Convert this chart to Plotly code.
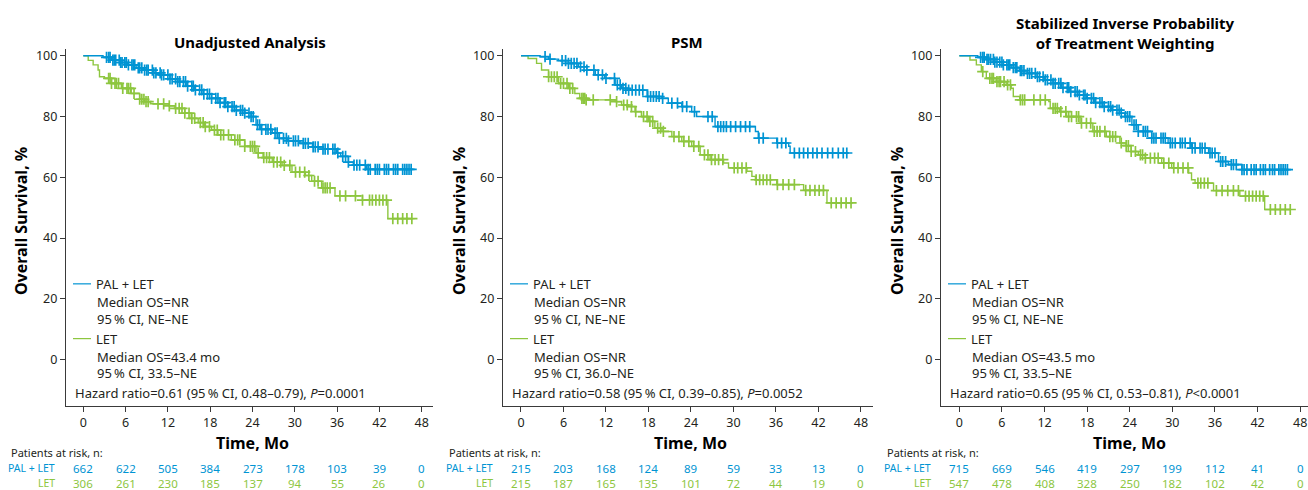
import numpy as np
import plotly.graph_objects as go

# ---------------- data ----------------
months = [0, 6, 12, 18, 24, 30, 36, 42, 48]
y_ticks = [0, 20, 40, 60, 80, 100]

panel_titles = ["Unadjusted Analysis", "PSM", "Stabilized Inverse Probability<br>of Treatment Weighting"]
arm_names = ["PAL + LET", "LET"]

# Panel 1: Unadjusted
u_pal_t = [0, 2.8, 4.0, 5.2, 6.3, 7.5, 8.7, 10.0, 11.1, 12.3, 13.4, 14.6, 15.8, 17.0, 18.2, 19.4, 20.5, 21.7, 22.9, 23.8, 24.5, 25.1, 26.8, 27.6, 29.0, 30.7, 32.5, 34.0, 35.9, 36.5, 37.6, 38.3, 40.2, 46.8]
u_pal_s = [100, 99.5, 98.6, 97.8, 97.0, 96.0, 95.3, 94.4, 93.7, 92.4, 91.5, 90.0, 88.8, 87.4, 86.0, 84.6, 83.3, 82.0, 81.1, 80.0, 77.3, 75.8, 74.6, 72.8, 72.0, 71.2, 70.0, 69.3, 68.0, 66.9, 65.0, 64.0, 62.6, 62.6]
u_pal_c = [3.3, 3.6, 3.8, 4.2, 4.4, 4.6, 5.1, 5.3, 5.5, 5.9, 6.1, 6.4, 6.9, 7.1, 7.3, 7.8, 8.0, 8.3, 8.7, 9.0, 9.2, 9.8, 10.0, 10.3, 10.9, 11.1, 11.4, 12.0, 12.3, 12.6, 13.1, 13.4, 13.7, 14.2, 14.5, 14.8, 15.4, 15.6, 15.9, 16.5, 16.8, 17.1, 17.6, 17.9, 18.2, 18.8, 19.1, 19.4, 20.0, 20.2, 20.5, 21.1, 21.4, 21.7, 22.3, 22.6, 22.9, 23.5, 23.8, 24.1, 24.7, 25.0, 25.3, 25.9, 26.2, 26.6, 27.2, 27.5, 27.8, 28.4, 28.8, 29.1, 29.8, 30.1, 30.5, 31.2, 31.5, 31.9, 32.6, 32.9, 33.3, 34.0, 34.3, 34.7, 35.4, 35.7, 36.1, 36.8, 37.2, 37.6, 38.4, 38.8, 39.2, 40.0, 40.4, 40.7, 41.4, 41.7, 42.0, 42.7, 43.0, 43.3, 44.0, 44.3, 44.6, 45.3, 45.6, 45.9, 46.2, 46.5]
u_let_t = [0, 0.7, 1.4, 2.1, 2.3, 3.0, 4.0, 5.4, 6.8, 8.0, 8.7, 9.5, 12.2, 13.0, 14.4, 15.3, 16.3, 17.2, 18.2, 19.1, 21.0, 22.9, 24.5, 25.5, 26.8, 28.2, 29.6, 31.5, 32.4, 33.8, 35.7, 39.6, 43.2, 47.0]
u_let_s = [100, 98.5, 97.0, 95.3, 93.1, 92.6, 90.9, 89.3, 87.6, 85.7, 84.9, 84.2, 83.5, 82.7, 81.1, 79.4, 78.0, 76.7, 75.5, 74.0, 72.3, 70.2, 68.0, 66.5, 65.0, 63.9, 61.7, 60.6, 58.7, 56.5, 53.9, 52.5, 46.4, 46.4]
u_let_c = [3.6, 3.8, 4.0, 4.5, 4.7, 5.0, 5.6, 6.2, 6.4, 6.7, 7.2, 8.0, 8.3, 8.6, 8.9, 9.2, 10.6, 11.4, 12.2, 13.1, 13.6, 14.0, 14.4, 15.0, 15.4, 15.8, 16.6, 17.0, 17.3, 17.9, 18.6, 19.0, 19.5, 19.9, 20.6, 21.5, 21.9, 22.2, 22.9, 23.7, 24.0, 24.3, 24.8, 25.6, 26.0, 26.4, 27.0, 27.5, 28.0, 28.5, 29.3, 30.1, 30.7, 31.4, 32.0, 32.8, 33.3, 34.0, 34.3, 34.6, 35.0, 36.4, 37.2, 38.6, 39.6, 40.6, 41.0, 41.5, 42.0, 42.5, 43.0, 43.9, 44.6, 45.3, 45.9, 46.6]

# Panel 2: PSM
p_pal_t = [0, 2.7, 3.9, 5.3, 6.7, 8.1, 9.3, 10.5, 11.8, 13.3, 14.2, 15.2, 17.8, 19.9, 20.8, 22.7, 24.1, 24.8, 27.4, 33.1, 33.5, 36.1, 37.8, 38.0, 46.2]
p_pal_s = [100, 99.7, 98.9, 98.4, 97.5, 96.4, 95.3, 93.7, 92.6, 90.4, 89.3, 88.7, 86.6, 86.0, 84.4, 83.3, 81.6, 80.0, 76.7, 75.1, 72.9, 71.3, 70.2, 68.0, 68.0]
p_pal_c = [3.4, 4.1, 5.8, 6.3, 6.7, 7.1, 7.5, 7.9, 8.4, 8.9, 9.3, 10.3, 10.9, 11.5, 12.0, 13.2, 13.6, 14.0, 14.4, 14.8, 15.2, 15.7, 16.2, 16.7, 17.2, 17.9, 18.3, 18.7, 19.1, 19.5, 20.0, 21.3, 22.1, 22.8, 23.4, 24.5, 26.4, 27.0, 27.8, 28.2, 28.6, 29.0, 29.6, 30.3, 31.0, 31.7, 32.3, 33.6, 34.2, 36.2, 36.8, 37.4, 38.6, 39.3, 39.9, 40.5, 41.2, 41.8, 42.5, 43.3, 44.0, 44.8, 45.5, 46.0]
p_let_t = [0, 1.0, 2.2, 2.9, 3.9, 5.3, 6.7, 7.6, 8.3, 9.2, 13.3, 14.2, 15.2, 16.1, 17.0, 18.0, 18.9, 19.9, 21.3, 22.7, 24.1, 25.3, 26.7, 28.6, 29.3, 31.9, 32.6, 33.1, 36.1, 39.9, 43.2, 46.9]
p_let_s = [100, 99.1, 97.5, 95.3, 93.1, 90.9, 89.3, 87.6, 86.0, 85.5, 84.9, 83.8, 83.3, 81.6, 80.0, 78.4, 76.2, 75.1, 73.4, 71.8, 70.2, 67.4, 65.8, 64.7, 63.1, 62.0, 60.3, 59.2, 57.6, 55.7, 51.6, 51.6]
p_let_c = [3.9, 4.3, 4.7, 5.1, 5.6, 6.0, 6.5, 6.9, 7.3, 8.6, 8.8, 9.0, 9.2, 10.2, 12.6, 13.5, 14.5, 15.0, 15.6, 16.2, 17.3, 17.8, 18.2, 18.6, 19.3, 19.7, 20.1, 21.6, 22.3, 23.0, 23.7, 24.4, 25.1, 25.9, 26.4, 26.9, 27.4, 27.9, 28.5, 30.1, 30.6, 31.2, 31.8, 33.2, 33.7, 34.2, 34.7, 35.2, 36.2, 37.0, 37.8, 38.6, 40.2, 40.8, 41.5, 42.1, 42.7, 43.8, 44.5, 45.2, 45.9, 46.6]

# Panel 3: Stabilized IPTW
w_pal_t = [0, 2.6, 3.8, 5.0, 6.2, 7.3, 8.5, 9.6, 10.8, 12.0, 13.2, 14.4, 15.5, 16.7, 17.9, 19.0, 20.2, 21.4, 22.6, 23.3, 24.3, 25.2, 27.1, 29.4, 32.7, 35.1, 36.5, 37.9, 39.8, 46.3]
w_pal_s = [100, 99.5, 98.8, 97.9, 97.0, 96.1, 95.1, 94.2, 93.1, 92.1, 90.9, 89.5, 88.2, 87.1, 86.0, 84.6, 83.3, 82.1, 81.1, 80.0, 77.3, 75.1, 72.9, 71.3, 69.6, 68.0, 65.2, 64.2, 62.5, 62.5]
w_pal_c = [3.0, 3.3, 3.5, 3.9, 4.1, 4.4, 4.8, 5.0, 5.3, 5.7, 6.0, 6.2, 6.7, 6.9, 7.1, 7.6, 7.9, 8.1, 8.6, 8.8, 9.1, 9.6, 9.9, 10.2, 10.7, 11.0, 11.3, 11.8, 12.1, 12.4, 12.9, 13.2, 13.5, 14.0, 14.3, 14.6, 15.2, 15.4, 15.7, 16.3, 16.6, 16.9, 17.5, 17.7, 18.0, 18.6, 18.9, 19.2, 19.8, 20.1, 20.4, 21.0, 21.3, 21.6, 22.2, 22.5, 22.8, 23.4, 23.7, 24.0, 24.6, 24.9, 25.2, 25.9, 26.2, 26.5, 27.1, 27.4, 27.7, 28.4, 28.7, 29.0, 29.7, 30.0, 30.4, 31.1, 31.4, 31.8, 32.5, 32.8, 33.2, 33.9, 34.2, 34.6, 35.3, 35.6, 36.0, 36.8, 37.1, 37.5, 38.3, 38.6, 39.0, 39.8, 40.1, 40.5, 41.1, 41.5, 41.8, 42.4, 42.8, 43.1, 43.7, 44.1, 44.4, 45.0, 45.3, 45.6, 45.9, 46.2]
w_let_t = [0, 1.5, 2.4, 3.1, 3.8, 5.2, 6.6, 7.3, 7.6, 8.5, 12.6, 12.8, 14.1, 15.1, 17.0, 18.8, 20.7, 22.6, 23.5, 24.2, 25.2, 26.2, 28.5, 29.9, 32.3, 32.7, 33.2, 35.8, 39.5, 43.0, 46.7]
w_let_s = [100, 98.6, 97.0, 94.8, 92.6, 91.5, 90.4, 89.3, 86.6, 85.5, 84.9, 82.7, 81.6, 80.0, 77.8, 75.1, 73.4, 71.3, 70.4, 68.5, 67.4, 66.3, 64.7, 63.1, 61.4, 59.2, 58.1, 55.6, 53.8, 49.4, 49.4]
w_let_c = [3.3, 4.3, 4.6, 4.8, 5.3, 5.6, 5.8, 6.3, 6.8, 7.2, 8.6, 8.9, 9.2, 10.5, 11.4, 12.1, 13.2, 13.5, 13.8, 14.3, 15.0, 15.4, 15.8, 16.5, 16.8, 17.2, 17.9, 18.5, 19.0, 19.4, 19.8, 20.5, 21.2, 21.6, 22.0, 22.8, 23.5, 23.8, 24.2, 24.8, 25.5, 25.8, 26.2, 26.9, 27.5, 28.0, 28.8, 29.5, 30.2, 30.8, 31.5, 32.2, 33.6, 34.0, 34.5, 35.0, 36.2, 37.0, 37.8, 38.6, 39.3, 40.3, 40.8, 41.3, 41.8, 42.3, 42.8, 43.8, 44.5, 45.2, 45.9, 46.6]

# at-risk tables
u_risk_pal = [662, 622, 505, 384, 273, 178, 103, 39, 0]
u_risk_let = [306, 261, 230, 185, 137, 94, 55, 26, 0]
p_risk_pal = [215, 203, 168, 124, 89, 59, 33, 13, 0]
p_risk_let = [215, 187, 165, 135, 101, 72, 44, 19, 0]
w_risk_pal = [715, 669, 546, 419, 297, 199, 112, 41, 0]
w_risk_let = [547, 478, 408, 328, 250, 182, 102, 42, 0]

pal_stats = [["Median OS=NR", "95\u2009% CI, NE\u2013NE"]] * 3
let_stats = [["Median OS=43.4 mo", "95\u2009% CI, 33.5\u2013NE"],
             ["Median OS=NR", "95\u2009% CI, 36.0\u2013NE"],
             ["Median OS=43.5 mo", "95\u2009% CI, 33.5\u2013NE"]]
hr_text = ["Hazard ratio=0.61 (95\u2009% CI, 0.48\u20130.79), <i>P</i>=0.0001",
           "Hazard ratio=0.58 (95\u2009% CI, 0.39\u20130.85), <i>P</i>=0.0052",
           "Hazard ratio=0.65 (95\u2009% CI, 0.53\u20130.81), <i>P</i>&lt;0.0001"]

# ---------------- style ----------------
W, H = 1308, 490
BLUE = "#0094D3"
GREEN = "#8DC63F"
TXT = "#231F20"
FONT = "Noto Sans"

axis_left_px = [66, 503, 941]
axis_right_px = [433, 873, 1308]
x_ranges = [[-2.45, 49.6], [-2.54, 49.7], [-2.58, 49.1]]
y_range = [-15.4, 102.3]
y_dom = [1 - 406 / H, 1 - 47 / H]


def X(px):
    return px / W


def Y(py):
    return 1 - py / H


def step_at(ts, ss, c):
    idx = np.searchsorted(np.array(ts), np.array(c), side="right") - 1
    return list(np.array(ss)[idx])


panels = [
    (u_pal_t, u_pal_s, u_pal_c, u_let_t, u_let_s, u_let_c, u_risk_pal, u_risk_let),
    (p_pal_t, p_pal_s, p_pal_c, p_let_t, p_let_s, p_let_c, p_risk_pal, p_risk_let),
    (w_pal_t, w_pal_s, w_pal_c, w_let_t, w_let_s, w_let_c, w_risk_pal, w_risk_let),
]

fig = go.Figure()
annotations = []
shapes = []

for i, (pt, ps, pc, lt, ls, lc, rp, rl) in enumerate(panels):
    xa = "x" if i == 0 else f"x{i+1}"
    ya = "y" if i == 0 else f"y{i+1}"
    for t, s, c, col in [(lt, ls, lc, GREEN), (pt, ps, pc, BLUE)]:
        fig.add_trace(go.Scatter(x=t, y=s, mode="lines", line=dict(color=col, width=1.4, shape="hv"),
                                 xaxis=xa, yaxis=ya, showlegend=False, hoverinfo="skip"))
        fig.add_trace(go.Scatter(x=c, y=step_at(t, s, c), mode="markers",
                                 marker=dict(symbol="cross-thin", size=8, line=dict(color=col, width=1.7)),
                                 xaxis=xa, yaxis=ya, showlegend=False, hoverinfo="skip"))

    dom = [X(axis_left_px[i]), X(axis_right_px[i])]
    axkw = dict(domain=dom, range=x_ranges[i], tickvals=months, ticks="outside", ticklen=5,
                tickcolor="#3a3a3a", showline=True, linecolor="#3a3a3a", linewidth=1.2,
                showgrid=False, zeroline=False, tickfont=dict(family=FONT, size=12.5, color=TXT),
                anchor=ya)
    aykw = dict(domain=y_dom, range=y_range, tickvals=y_ticks, ticks="outside", ticklen=5,
                tickcolor="#3a3a3a", showline=True, linecolor="#3a3a3a", linewidth=1.2,
                showgrid=False, zeroline=False, tickfont=dict(family=FONT, size=12.5, color=TXT),
                anchor=xa)
    fig.update_layout(**{("xaxis" if i == 0 else f"xaxis{i+1}"): axkw,
                         ("yaxis" if i == 0 else f"yaxis{i+1}"): aykw})

    L = axis_left_px[i]
    # legend inside
    for (ly, col, name, stats) in [(283, BLUE, arm_names[0], pal_stats[i]), (338, GREEN, arm_names[1], let_stats[i])]:
        shapes.append(dict(type="line", xref="paper", yref="paper", x0=X(L + 7), x1=X(L + 25),
                           y0=Y(ly), y1=Y(ly), line=dict(color=col, width=1.2)))
        annotations.append(dict(text=name, x=X(L + 28), y=Y(ly), xref="paper", yref="paper",
                                xanchor="left", yanchor="middle", showarrow=False,
                                font=dict(family=FONT, size=13, color=TXT)))
        for k, st in enumerate(stats):
            annotations.append(dict(text=st, x=X(L + 29), y=Y(ly + 18 + 17 * k), xref="paper", yref="paper",
                                    xanchor="left", yanchor="middle", showarrow=False,
                                    font=dict(family=FONT, size=13, color=TXT)))
    annotations.append(dict(text=hr_text[i], x=X(L + 7), y=Y(393), xref="paper", yref="paper",
                            xanchor="left", yanchor="middle", showarrow=False,
                            font=dict(family=FONT, size=13, color=TXT)))
    # titles
    title_cx = [250, 687, 1125][i]
    title_cy = [40, 40, 31][i]
    annotations.append(dict(text=f"<b>{panel_titles[i]}</b>", x=X(title_cx), y=Y(title_cy), xref="paper",
                            yref="paper", xanchor="center", yanchor="middle", showarrow=False,
                            font=dict(family=FONT, size=15, color="#000000")))
    # axis titles
    annotations.append(dict(text="<b>Time, Mo</b>", x=24, xref=xa, y=Y(443), yref="paper",
                            xanchor="center", yanchor="middle", showarrow=False,
                            font=dict(family=FONT, size=16, color="#000000")))
    annotations.append(dict(text="<b>Overall Survival, %</b>", x=X([21, 459, 897][i]), y=Y(220),
                            xref="paper", yref="paper", textangle=-90, xanchor="center", yanchor="middle",
                            showarrow=False, font=dict(family=FONT, size=16, color="#000000")))
    # at-risk table
    annotations.append(dict(text="Patients at risk, n:", x=X([9, 447, 885][i]), y=Y(452), xref="paper",
                            yref="paper", xanchor="left", yanchor="middle", showarrow=False,
                            font=dict(family=FONT, size=11, color=TXT)))
    for (ry, col, name, vals) in [(468, BLUE, arm_names[0], rp), (483, GREEN, arm_names[1], rl)]:
        annotations.append(dict(text=name, x=X([57, 495, 933][i]), y=Y(ry), xref="paper", yref="paper",
                                xanchor="right", yanchor="middle", showarrow=False,
                                font=dict(family=FONT, size=10.5, color=col)))
        for m, v in zip(months, vals):
            annotations.append(dict(text=str(v), x=m, xref=xa, y=Y(ry), yref="paper",
                                    xanchor="center", yanchor="middle", showarrow=False,
                                    font=dict(family=FONT, size=11.5, color=col)))

fig.update_layout(width=W, height=H, margin=dict(l=0, r=0, t=0, b=0),
                  paper_bgcolor="white", plot_bgcolor="white",
                  annotations=annotations, shapes=shapes, font=dict(family=FONT))

fig.write_html("out.html", config={"displayModeBar": False},
               post_script="document.body.style.margin='0';document.body.style.overflow='hidden';")
